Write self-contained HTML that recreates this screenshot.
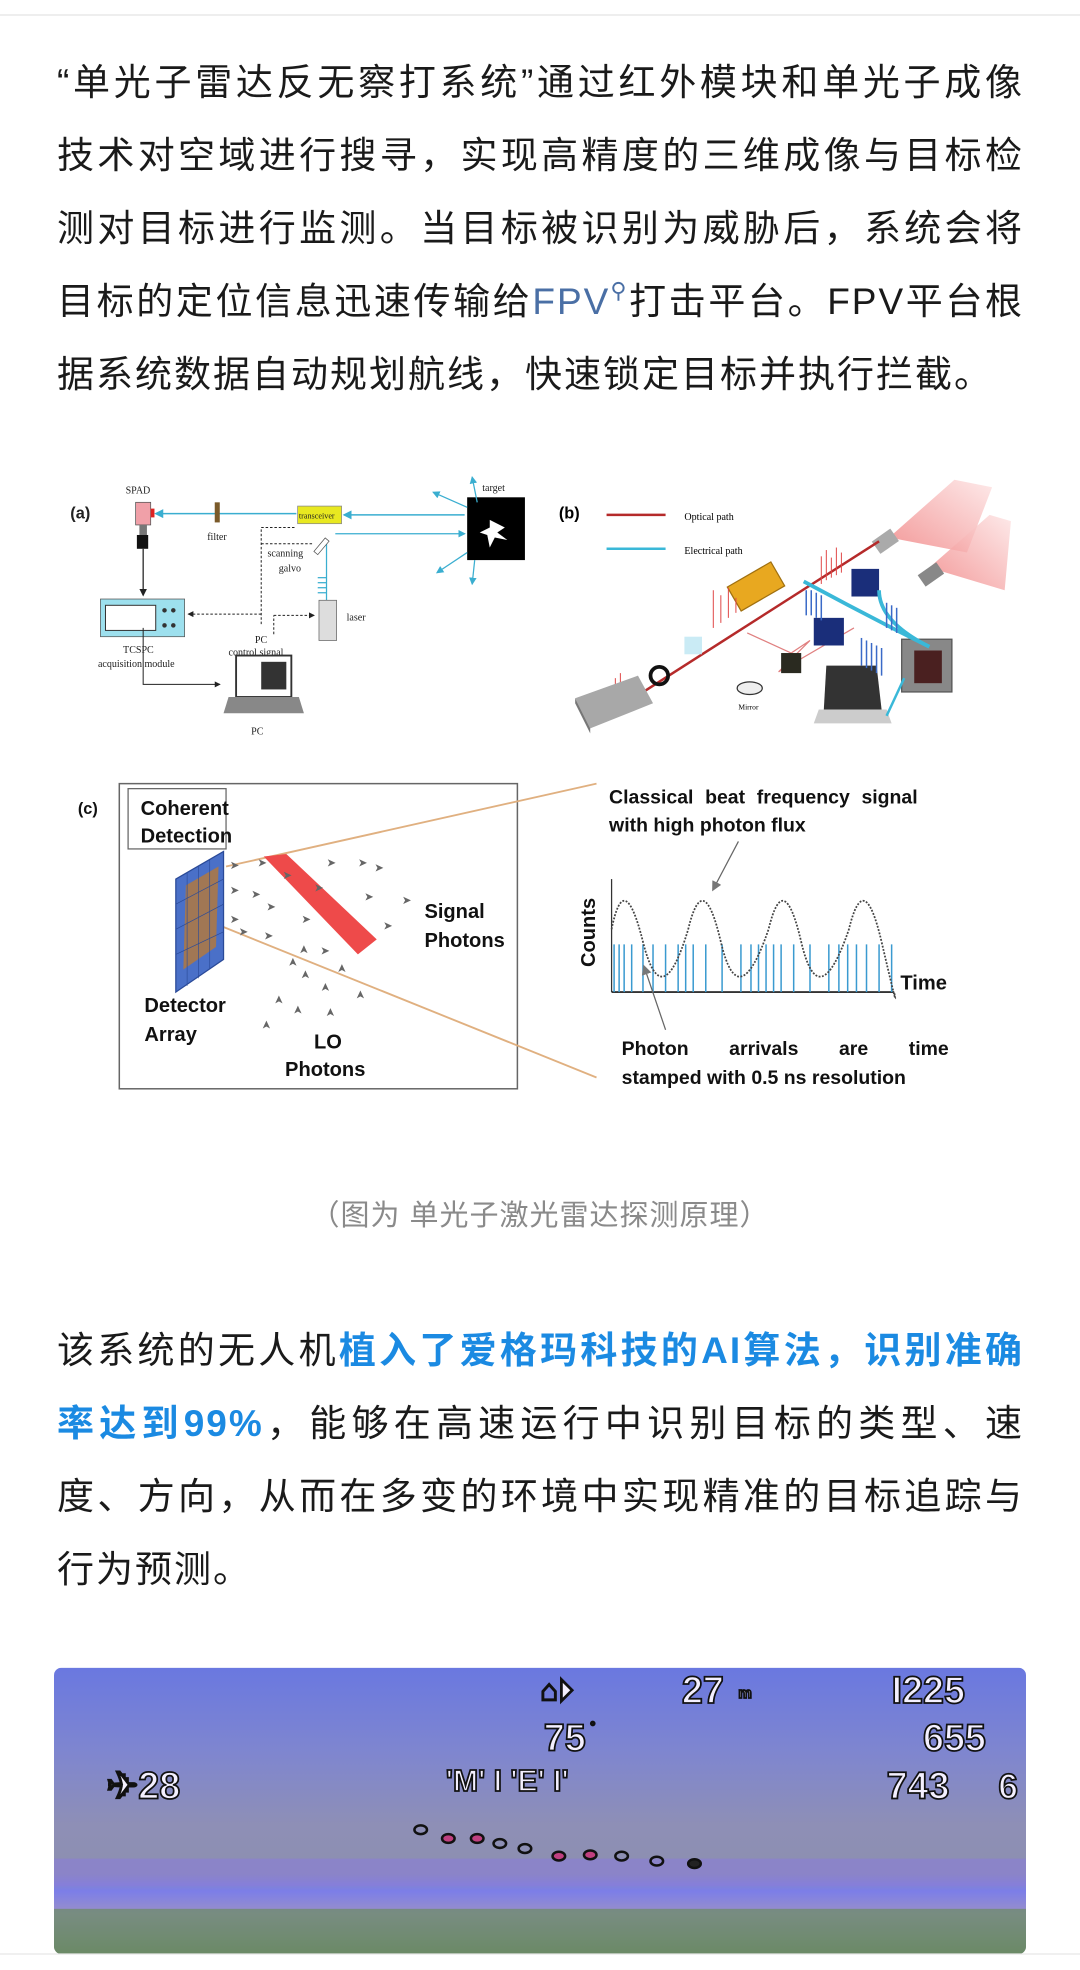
<!DOCTYPE html>
<html><head><meta charset="utf-8">
<style>
html,body{margin:0;padding:0;background:#fff;}
body{width:1080px;height:1970px;position:relative;overflow:hidden;font-family:"Liberation Sans","Noto Sans CJK SC",sans-serif;}
.topline{position:absolute;left:0;top:14px;width:1080px;height:2px;background:#eeeeee;}
.p{position:absolute;left:57px;width:967px;font-size:37px;color:#1a1a1a;}
.l{height:73px;line-height:73px;white-space:nowrap;text-align:justify;text-align-last:justify;letter-spacing:2px;overflow:visible;}
.l.last{text-align-last:left;}
.blue{color:#1b8ae2;font-weight:bold;}
.link{color:#4a6fa5;}
.q{position:relative;top:-16px;font-size:22px;line-height:0;color:#4a6fa5;}
.cap{position:absolute;left:0;width:1080px;top:1192px;text-align:center;font-size:29px;color:#8a8a8a;letter-spacing:1px;}
svg{position:absolute;left:0;top:0;}
</style></head><body>
<div class="topline"></div>
<div class="p" style="top:46px">
<div class="l">“单光子雷达反无察打系统”通过红外模块和单光子成像</div>
<div class="l">技术对空域进行搜寻，实现高精度的三维成像与目标检</div>
<div class="l">测对目标进行监测。当目标被识别为威胁后，系统会将</div>
<div class="l">目标的定位信息迅速传输给<span class="link">FPV</span><span class="q">&#x26B2;</span>打击平台。FPV平台根</div>
<div class="l last">据系统数据自动规划航线，快速锁定目标并执行拦截。</div>
</div>
<div class="cap">（图为 单光子激光雷达探测原理）</div>
<div class="p" style="top:1314px">
<div class="l">该系统的无人机<span class="blue">植入了爱格玛科技的AI算法，识别准确</span></div>
<div class="l"><span class="blue">率达到99%</span>，能够在高速运行中识别目标的类型、速</div>
<div class="l">度、方向，从而在多变的环境中实现精准的目标追踪与</div>
<div class="l last">行为预测。</div>
</div>

<svg width="1080" height="1970" viewBox="0 0 860 1568.7" preserveAspectRatio="none" font-family="Liberation Serif, serif">
<defs>
<marker id="ab" markerWidth="6" markerHeight="6" refX="5" refY="3" orient="auto"><path d="M0,0L6,3L0,6z" fill="#3aaed0"/></marker>
<marker id="ak" markerWidth="6" markerHeight="6" refX="5" refY="3" orient="auto"><path d="M0,0L6,3L0,6z" fill="#222"/></marker>
<marker id="ag" markerWidth="8" markerHeight="8" refX="6" refY="4" orient="auto"><path d="M0,0L8,4L0,8z" fill="#777"/></marker>
<linearGradient id="vid" x1="0" y1="0" x2="0" y2="1">
<stop offset="0" stop-color="#6a78e0"/><stop offset="0.3" stop-color="#7f86cf"/><stop offset="0.55" stop-color="#8e8fb6"/><stop offset="0.72" stop-color="#8c8fb0"/><stop offset="0.78" stop-color="#7c7ee8"/><stop offset="0.86" stop-color="#9a90c8"/><stop offset="1" stop-color="#6f8a70"/>
</linearGradient>
<linearGradient id="cone" x1="0" y1="1" x2="1" y2="0"><stop offset="0" stop-color="#f08080"/><stop offset="1" stop-color="#fde4e4"/></linearGradient>
</defs>

<!-- (a) -->
<g font-size="8" fill="#222">
<text x="56" y="413" font-family="Liberation Sans" font-size="13" font-weight="bold">(a)</text>
<text x="100" y="393">SPAD</text>
<rect x="108" y="400" width="12" height="18" fill="#f0a0a8" stroke="#555" stroke-width="0.6"/>
<rect x="120" y="405" width="3" height="7" fill="#d22"/>
<rect x="111" y="418" width="6" height="8" fill="#777"/>
<rect x="109" y="426" width="9" height="11" fill="#111"/>
<line x1="114" y1="437" x2="114" y2="474" stroke="#222" marker-end="url(#ak)"/>
<line x1="236" y1="409" x2="124" y2="409" stroke="#3aaed0" stroke-width="1.2" marker-end="url(#ab)"/>
<rect x="171" y="400" width="4" height="16" fill="#7a5a2a"/>
<text x="165" y="430">filter</text>
<rect x="237" y="403" width="35" height="14" fill="#e8e820" stroke="#888" stroke-width="0.6"/>
<text x="238" y="413" font-size="6.5">transceiver</text>
<line x1="370" y1="410" x2="274" y2="410" stroke="#3aaed0" stroke-width="1.2" marker-end="url(#ab)"/>
<rect x="372" y="396" width="46" height="50" fill="#000"/>
<path d="M390 414 L402 420 L396 424 L404 430 L394 428 L390 436 L388 426 L382 424 L390 420z" fill="#fff"/>
<text x="384" y="391">target</text>
<g stroke="#3aaed0" stroke-width="1" fill="none">
<line x1="380" y1="400" x2="376" y2="380" marker-end="url(#ab)"/>
<line x1="372" y1="404" x2="345" y2="392" marker-end="url(#ab)"/>
<line x1="372" y1="440" x2="348" y2="456" marker-end="url(#ab)"/>
<line x1="378" y1="446" x2="376" y2="465" marker-end="url(#ab)"/>
<line x1="267" y1="425" x2="370" y2="425" marker-end="url(#ab)"/>
<line x1="260" y1="478" x2="260" y2="432"/>
</g>
<rect x="254" y="428" width="4" height="14" fill="#fff" stroke="#555" stroke-width="0.6" transform="rotate(40 256 435)"/>
<text x="213" y="443">scanning</text><text x="222" y="455">galvo</text>
<g stroke="#3aaed0"><line x1="253" y1="460" x2="260" y2="460"/><line x1="253" y1="464" x2="260" y2="464"/><line x1="253" y1="468" x2="260" y2="468"/><line x1="253" y1="472" x2="260" y2="472"/></g>
<rect x="254" y="478" width="14" height="32" fill="#ddd" stroke="#666" stroke-width="0.6"/>
<text x="276" y="494">laser</text>
<rect x="80" y="477" width="67" height="30" fill="#9de0ee" stroke="#555" stroke-width="0.6"/>
<rect x="84" y="482" width="40" height="20" fill="#fff" stroke="#333" stroke-width="0.8"/>
<circle cx="131" cy="486" r="1.8" fill="#333"/><circle cx="138" cy="486" r="1.8" fill="#333"/><circle cx="131" cy="498" r="1.8" fill="#333"/><circle cx="138" cy="498" r="1.8" fill="#333"/>
<text x="98" y="520">TCSPC</text><text x="78" y="531">acquisition module</text>
<g stroke="#222" stroke-dasharray="2,1.5" fill="none" stroke-width="0.8">
<line x1="208" y1="497" x2="208" y2="420"/><line x1="208" y1="420" x2="236" y2="420"/>
<line x1="208" y1="433" x2="250" y2="433"/>
<line x1="208" y1="489" x2="150" y2="489" marker-end="url(#ak)"/>
<line x1="218" y1="505" x2="218" y2="490"/><line x1="218" y1="490" x2="250" y2="490" marker-end="url(#ak)"/>
</g>
<text x="203" y="512">PC</text><text x="182" y="522">control signal</text>
<polyline points="114,500 114,545 175,545" fill="none" stroke="#222" stroke-width="0.8" marker-end="url(#ak)"/>
<rect x="188" y="522" width="44" height="33" fill="#fff" stroke="#333" stroke-width="1.5"/>
<rect x="208" y="527" width="20" height="22" fill="#333"/>
<path d="M182 555 L238 555 L242 568 L178 568z" fill="#888"/>
<text x="200" y="585">PC</text>
</g>

<!-- (b) -->
<g>
<text x="445" y="413" font-family="Liberation Sans" font-size="13" font-weight="bold">(b)</text>
<line x1="483" y1="410" x2="530" y2="410" stroke="#b52a2a" stroke-width="2"/>
<text x="545" y="414" font-size="8">Optical path</text>
<line x1="483" y1="437" x2="530" y2="437" stroke="#3ab8d8" stroke-width="2"/>
<text x="545" y="441" font-size="8">Electrical path</text>
<path d="M708 428 L760 382 L790 388 L770 440z" fill="url(#cone)" opacity="0.8"/>
<path d="M740 452 L788 410 L805 415 L800 470z" fill="url(#cone)" opacity="0.8"/>
<rect x="696" y="425" width="18" height="12" fill="#aaa" transform="rotate(-35 705 431)"/>
<rect x="732" y="452" width="18" height="11" fill="#888" transform="rotate(-35 741 457)"/>
<line x1="495" y1="562" x2="700" y2="431" stroke="#b52a2a" stroke-width="2"/>
<path d="M595 504 L630 520 L645 510 L620 535 L680 500" stroke="#e08080" fill="none"/>
<rect x="582" y="456" width="40" height="22" fill="#e8a820" stroke="#a07010" transform="rotate(-30 602 467)"/>
<rect x="545" y="507" width="14" height="14" fill="#bde6f2" opacity="0.8"/>
<circle cx="525" cy="538" r="7" fill="none" stroke="#111" stroke-width="3"/>
<ellipse cx="597" cy="548" rx="10" ry="5" fill="#eee" stroke="#333"/>
<text x="588" y="565" font-size="6">Mirror</text>
<rect x="622" y="520" width="16" height="16" fill="#2a2a20"/>
<rect x="648" y="492" width="24" height="22" fill="#1a2e7a"/>
<rect x="678" y="453" width="22" height="22" fill="#1a2e7a"/>
<rect x="718" y="509" width="40" height="42" fill="#888" stroke="#555"/>
<rect x="728" y="518" width="22" height="26" fill="#4a2020"/>
<path d="M658 530 L698 530 L702 565 L656 565z" fill="#333"/>
<path d="M652 565 L706 565 L710 576 L648 576z" fill="#ccc"/>
<path d="M640 463 Q690 490 740 515" stroke="#3ab8d8" stroke-width="3" fill="none"/>
<path d="M700 470 Q700 495 740 515" stroke="#3ab8d8" stroke-width="3" fill="none"/>
<line x1="706" y1="570" x2="720" y2="540" stroke="#3ab8d8" stroke-width="2"/>
<g stroke="#3a6ac8" stroke-width="1.2">
<line x1="642" y1="470" x2="642" y2="490"/><line x1="646" y1="470" x2="646" y2="490"/><line x1="650" y1="472" x2="650" y2="492"/><line x1="654" y1="474" x2="654" y2="494"/>
<line x1="686" y1="508" x2="686" y2="530"/><line x1="690" y1="510" x2="690" y2="532"/><line x1="694" y1="512" x2="694" y2="534"/><line x1="698" y1="514" x2="698" y2="536"/><line x1="702" y1="516" x2="702" y2="538"/>
<line x1="706" y1="480" x2="706" y2="500"/><line x1="710" y1="482" x2="710" y2="502"/><line x1="714" y1="484" x2="714" y2="504"/>
</g>
<g stroke="#e04848" stroke-width="0.8">
<line x1="654" y1="443" x2="654" y2="465"/><line x1="658" y1="438" x2="658" y2="462"/><line x1="662" y1="444" x2="662" y2="460"/><line x1="666" y1="436" x2="666" y2="458"/><line x1="670" y1="440" x2="670" y2="456"/>
<line x1="490" y1="540" x2="490" y2="560"/><line x1="494" y1="536" x2="494" y2="556"/><line x1="498" y1="544" x2="498" y2="554"/>
<line x1="568" y1="470" x2="568" y2="500"/><line x1="574" y1="474" x2="574" y2="496"/><line x1="580" y1="468" x2="580" y2="492"/><line x1="586" y1="476" x2="586" y2="488"/>
</g>
<path d="M458 556 L508 538 L520 560 L470 580z" fill="#a8a8a8"/>
<path d="M458 556 L470 580 L470 584 L458 560z" fill="#777"/>
</g>

<!-- (c) -->
<g font-family="Liberation Sans" font-weight="bold" fill="#111">
<text x="62" y="648" font-size="13">(c)</text>
<rect x="95" y="624" width="317" height="243" fill="none" stroke="#666" stroke-width="1.2"/>
<rect x="102" y="628" width="78" height="48" fill="#fff" stroke="#666"/>
<text x="112" y="649" font-size="16">Coherent</text>
<text x="112" y="671" font-size="16">Detection</text>
<line x1="180" y1="690" x2="475" y2="624" stroke="#e0b080" stroke-width="1.5"/>
<line x1="175" y1="737" x2="475" y2="858" stroke="#e0b080" stroke-width="1.5"/>
<path d="M140 700 L178 678 L178 764 L140 790z" fill="#4a70c8" stroke="#2a4a98"/>
<path d="M148 705 L174 690 L172 754 L146 772z" fill="#b07840" opacity="0.85"/>
<g stroke="#2a4a98" stroke-width="0.5">
<line x1="149" y1="695" x2="149" y2="785"/><line x1="158" y1="690" x2="158" y2="779"/><line x1="167" y1="684" x2="167" y2="772"/>
<line x1="140" y1="720" x2="178" y2="700"/><line x1="140" y1="740" x2="178" y2="720"/><line x1="140" y1="760" x2="178" y2="742"/>
</g>
<path d="M210 682 L228 680 L300 748 L285 760z" fill="#ee4a4a"/>
<g fill="#666" font-size="9" font-weight="normal">
<text x="183" y="692">➤</text><text x="183" y="712">➤</text><text x="183" y="735">➤</text><text x="205" y="690">➤</text><text x="225" y="700">➤</text><text x="200" y="715">➤</text><text x="212" y="725">➤</text><text x="190" y="745">➤</text><text x="210" y="748">➤</text><text x="250" y="710">➤</text><text x="260" y="690">➤</text><text x="285" y="690">➤</text><text x="298" y="694">➤</text><text x="290" y="717">➤</text><text x="305" y="740">➤</text><text x="320" y="720">➤</text><text x="240" y="735">➤</text><text x="255" y="760">➤</text>
<text x="236" y="770" transform="rotate(-90 236 770)">➤</text><text x="246" y="780" transform="rotate(-90 246 780)">➤</text><text x="262" y="790" transform="rotate(-90 262 790)">➤</text><text x="275" y="775" transform="rotate(-90 275 775)">➤</text><text x="225" y="800" transform="rotate(-90 225 800)">➤</text><text x="240" y="808" transform="rotate(-90 240 808)">➤</text><text x="266" y="810" transform="rotate(-90 266 810)">➤</text><text x="215" y="820" transform="rotate(-90 215 820)">➤</text><text x="245" y="760" transform="rotate(-90 245 760)">➤</text><text x="290" y="796" transform="rotate(-90 290 796)">➤</text>
</g>
<text x="338" y="731" font-size="16">Signal</text>
<text x="338" y="754" font-size="16">Photons</text>
<text x="115" y="806" font-size="16">Detector</text>
<text x="115" y="829" font-size="16">Array</text>
<text x="250" y="835" font-size="16">LO</text>
<text x="227" y="857" font-size="16">Photons</text>
<text x="485" y="640" font-size="15.5" word-spacing="5">Classical beat frequency signal</text>
<text x="485" y="662" font-size="15.5">with high photon flux</text>
<text x="474" y="770" font-size="16" transform="rotate(-90 474 770)">Counts</text>
<line x1="487" y1="790" x2="712" y2="790" stroke="#333" stroke-width="1.5"/>
<line x1="487" y1="700" x2="487" y2="790" stroke="#333" stroke-width="1"/>
<g stroke="#3a9ad0" stroke-width="1.2">
<line x1="489" y1="752" x2="489" y2="790"/><line x1="493" y1="752" x2="493" y2="790"/><line x1="497" y1="752" x2="497" y2="790"/><line x1="503" y1="752" x2="503" y2="790"/><line x1="512" y1="752" x2="512" y2="790"/><line x1="520" y1="752" x2="520" y2="790"/><line x1="530" y1="752" x2="530" y2="790"/><line x1="540" y1="752" x2="540" y2="790"/><line x1="546" y1="752" x2="546" y2="790"/><line x1="552" y1="752" x2="552" y2="790"/><line x1="562" y1="752" x2="562" y2="790"/><line x1="575" y1="752" x2="575" y2="790"/><line x1="590" y1="752" x2="590" y2="790"/><line x1="598" y1="752" x2="598" y2="790"/><line x1="604" y1="752" x2="604" y2="790"/><line x1="610" y1="752" x2="610" y2="790"/><line x1="616" y1="752" x2="616" y2="790"/><line x1="622" y1="752" x2="622" y2="790"/><line x1="632" y1="752" x2="632" y2="790"/><line x1="645" y1="752" x2="645" y2="790"/><line x1="660" y1="752" x2="660" y2="790"/><line x1="668" y1="752" x2="668" y2="790"/><line x1="675" y1="752" x2="675" y2="790"/><line x1="682" y1="752" x2="682" y2="790"/><line x1="690" y1="752" x2="690" y2="790"/><line x1="700" y1="752" x2="700" y2="790"/><line x1="710" y1="752" x2="710" y2="790"/>
</g>
<path d="M487 740 Q497 690 512 750 T548 740 Q560 690 574 750 T612 740 Q624 690 638 750 T676 740 Q688 690 702 750 T712 790" fill="none" stroke="#444" stroke-width="1.4" stroke-dasharray="1.5,1.2"/>
<text x="717" y="788" font-size="16">Time</text>
<line x1="588" y1="670" x2="568" y2="708" stroke="#666" stroke-width="1" marker-end="url(#ag)"/>
<line x1="530" y1="820" x2="513" y2="770" stroke="#666" stroke-width="1" marker-end="url(#ag)"/>
<text x="495" y="840" font-size="15.5" word-spacing="28">Photon arrivals are time</text>
<text x="495" y="863" font-size="15.5">stamped with 0.5 ns resolution</text>
</g>

<!-- video -->
<clipPath id="vc"><rect x="43" y="1328" width="774" height="228" rx="6"/></clipPath>
<g clip-path="url(#vc)">
<rect x="43" y="1328" width="774" height="228" fill="url(#vid)"/>
<rect x="43" y="1480" width="774" height="22" fill="#8a7ae0" opacity="0.5"/>
<rect x="43" y="1520" width="774" height="36" fill="#6a8a62" opacity="0.7"/>
<g font-family="Liberation Sans" font-weight="bold" fill="#f4f0ff" stroke="#111" stroke-width="1.4" font-size="30">
<text x="430" y="1354" font-size="24">⌂⏵</text>
<text x="543" y="1356">27</text><text x="588" y="1352" font-size="12">m</text>
<text x="710" y="1356">I225</text>
<text x="433" y="1394">75</text><text x="470" y="1378" font-size="10">°</text>
<text x="735" y="1394">655</text>
<text x="85" y="1432">✈28</text>
<text x="355" y="1426" font-size="24">'M' I 'E' I'</text>
<text x="706" y="1432">743</text><text x="795" y="1432" font-size="28">6</text>
</g>
<g fill="none" stroke="#111" stroke-width="2">
<ellipse cx="335" cy="1457" rx="5" ry="3.5"/><ellipse cx="357" cy="1464" rx="5" ry="3.5" fill="#c04080"/><ellipse cx="380" cy="1464" rx="5" ry="3.5" fill="#c04080"/><ellipse cx="398" cy="1468" rx="5" ry="3.5"/><ellipse cx="418" cy="1472" rx="5" ry="3.5"/><ellipse cx="445" cy="1478" rx="5" ry="3.5" fill="#c04080"/><ellipse cx="470" cy="1477" rx="5" ry="3.5" fill="#c04080"/><ellipse cx="495" cy="1478" rx="5" ry="3.5"/><ellipse cx="523" cy="1482" rx="5" ry="3.5"/><ellipse cx="553" cy="1484" rx="5" ry="3.5" fill="#222"/>
</g>
</g>
<line x1="0" y1="1556" x2="860" y2="1556" stroke="#e6e6e6" stroke-width="1"/>
<path d="M414 1568 Q430 1550 446 1568" fill="none" stroke="#fff" stroke-width="2"/>
</svg>
</body></html>
